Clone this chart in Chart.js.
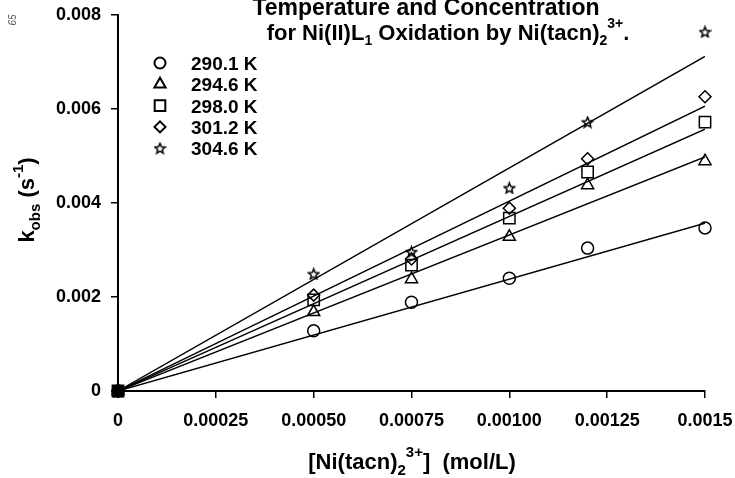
<!DOCTYPE html>
<html>
<head>
<meta charset="utf-8">
<script src="https://cdn.jsdelivr.net/npm/chart.js@4.4.1/dist/chart.umd.min.js"></script>
<style>
  html, body { margin: 0; padding: 0; background: #fff; }
  #wrap { width: 735px; height: 478px; position: relative; }
</style>
</head>
<body>
<div id="wrap"><canvas id="myChart" width="735" height="478"></canvas></div>
<script>
// concentration of Ni(tacn)2 3+ (mol/L)
const conc = [0, 0.0005, 0.00075, 0.001, 0.0012, 0.0015];

// k_obs (s-1), one array per temperature
const temps = ['290.1 K', '294.6 K', '298.0 K', '301.2 K', '304.6 K'];
const k290 = [0, 0.00128, 0.00189, 0.00240, 0.00304, 0.00347];
const k294 = [0, 0.00168, 0.00238, 0.00328, 0.00438, 0.00489];
const k298 = [0, 0.00194, 0.00268, 0.00368, 0.00466, 0.00572];
const k301 = [0, 0.00204, 0.00281, 0.00389, 0.00494, 0.00626];
const k304 = [0, 0.00249, 0.00296, 0.00432, 0.00572, 0.00764];

// fitted lines, start and end values
const fitX = [0, 0.0015];
const fit290 = [0, 0.00357];
const fit294 = [0, 0.00498];
const fit298 = [0, 0.00557];
const fit301 = [0, 0.00606];
const fit304 = [0, 0.00712];

const xTickLabels = ['0', '0.00025', '0.00050', '0.00075', '0.00100', '0.00125', '0.0015'];
const yTickLabels = ['0', '0.002', '0.004', '0.006', '0.008'];

const FONT = '"Liberation Sans", Arial, sans-serif';

// open five-point star for the 304.6 K points
function makeStar(size) {
  const c = document.createElement('canvas');
  c.width = size; c.height = size;
  const g = c.getContext('2d');
  const cx = size / 2, cy = size / 2 + 0.5, ro = size / 2 - 1, ri = ro * 0.45;
  g.beginPath();
  for (let i = 0; i < 10; i++) {
    const r = i % 2 ? ri : ro;
    const a = -Math.PI / 2 + i * Math.PI / 5;
    g.lineTo(cx + r * Math.cos(a), cy + r * Math.sin(a));
  }
  g.closePath();
  g.lineWidth = 1.5;
  g.strokeStyle = '#000';
  g.stroke();
  return c;
}
const star = makeStar(13);

const series = [k290, k294, k298, k301, k304];
const fits = [fit290, fit294, fit298, fit301, fit304];
const styles = ['circle', 'triangle', 'rect', 'rectRot', star];
const radii = [6, 7, 8, 6, 6];

const datasets = [];
series.forEach((s, i) => {
  datasets.push({
    label: temps[i],
    data: conc.map((x, j) => ({ x: x, y: s[j] })),
    showLine: false,
    pointStyle: styles[i],
    pointRadius: radii[i],
    pointBorderColor: '#000',
    pointBackgroundColor: 'rgba(0,0,0,0)',
    pointBorderWidth: 1.5,
    clip: false
  });
});
fits.forEach((f) => {
  datasets.push({
    label: '',
    data: fitX.map((x, j) => ({ x: x, y: f[j] })),
    showLine: true,
    borderColor: '#000',
    borderWidth: 1.4,
    pointRadius: 0,
    fill: false
  });
});
// filled origin marker
datasets.push({
  label: '',
  data: [{ x: 0, y: 0 }],
  pointStyle: 'rect',
  pointRadius: 6,
  pointBackgroundColor: '#000',
  pointBorderColor: '#000',
  clip: false
});

function drawRich(ctx, parts, x, y, align) {
  let w = 0;
  parts.forEach(p => { ctx.font = 'bold ' + p.s + 'px ' + FONT; w += ctx.measureText(p.t).width; });
  let cx = align === 'center' ? x - w / 2 : x;
  parts.forEach(p => {
    ctx.font = 'bold ' + p.s + 'px ' + FONT;
    ctx.fillText(p.t, cx, y + (p.dy || 0));
    cx += ctx.measureText(p.t).width;
  });
}

const textPlugin = {
  id: 'texts',
  afterDraw(chart) {
    const ctx = chart.ctx;
    ctx.save();
    ctx.fillStyle = '#000';
    ctx.textBaseline = 'alphabetic';
    ctx.textAlign = 'left';

    // title
    drawRich(ctx, [{ t: 'Temperature and Concentration', s: 23 }], 426, 15, 'center');
    drawRich(ctx, [
      { t: 'for Ni(II)L', s: 22 }, { t: '1', s: 14, dy: 5 },
      { t: ' Oxidation by Ni(tacn)', s: 22 }, { t: '2', s: 14, dy: 5 },
      { t: '3+', s: 14, dy: -12 }, { t: '.', s: 22 }
    ], 448, 40, 'center');

    // legend
    temps.forEach((t, i) => {
      const y = 63 + i * 21.3;
      ctx.fillStyle = 'rgba(0,0,0,0)';
      ctx.strokeStyle = '#000';
      ctx.lineWidth = 2;
      Chart.helpers.drawPoint(ctx, {
        pointStyle: styles[i], radius: radii[i] - 0.5, borderWidth: 2, rotation: 0
      }, 160, y);
      ctx.fillStyle = '#000';
      ctx.font = 'bold 19px ' + FONT;
      ctx.fillText(t, 191, y + 7);
    });

    // x axis title
    drawRich(ctx, [
      { t: '[Ni(tacn)', s: 22 }, { t: '2', s: 15, dy: 6 }, { t: '3+', s: 15, dy: -12 },
      { t: ']  (mol/L)', s: 22 }
    ], 412, 469, 'center');

    // y axis title
    ctx.save();
    ctx.translate(34, 200);
    ctx.rotate(-Math.PI / 2);
    drawRich(ctx, [
      { t: 'k', s: 22 }, { t: 'obs', s: 15, dy: 6 }, { t: ' (s', s: 22 }, { t: '-1', s: 15, dy: -11 }, { t: ')', s: 22 }
    ], 0, 0, 'center');
    ctx.restore();

    // page mark from the scan
    ctx.save();
    ctx.translate(16, 20);
    ctx.rotate(-Math.PI / 2);
    ctx.fillStyle = '#555';
    ctx.font = 'italic 10px ' + FONT;
    ctx.textAlign = 'center';
    ctx.fillText('65', 0, 0);
    ctx.restore();

    ctx.restore();
  }
};

const ctx = document.getElementById('myChart').getContext('2d');
const chart = new Chart(ctx, {
  type: 'scatter',
  data: { datasets: datasets },
  options: {
    responsive: false,
    animation: false,
    layout: { padding: { left: 0, right: 30, top: 15, bottom: 0 } },
    plugins: { legend: { display: false }, tooltip: { enabled: false } },
    scales: {
      x: {
        type: 'linear',
        min: 0, max: 0.0015,
        afterFit(scale) { scale.height = 87; scale.paddingLeft = 0; scale.paddingRight = 0; },
        border: { display: true, color: '#000', width: 2 },
        grid: { drawOnChartArea: false, drawTicks: true, tickLength: 7, color: '#000', lineWidth: 1.5 },
        ticks: {
          stepSize: 0.00025,
          padding: 12,
          color: '#000',
          maxRotation: 0,
          font: { family: FONT, size: 18, weight: 'bold' },
          callback: (v, i) => xTickLabels[i]
        }
      },
      y: {
        type: 'linear',
        min: 0, max: 0.008,
        afterFit(scale) { scale.width = 118; scale.paddingTop = 0; scale.paddingBottom = 0; },
        border: { display: true, color: '#000', width: 2 },
        grid: { drawOnChartArea: false, drawTicks: true, tickLength: 7, color: '#000', lineWidth: 1.5 },
        ticks: {
          stepSize: 0.002,
          padding: 10,
          color: '#000',
          font: { family: FONT, size: 18, weight: 'bold' },
          callback: (v, i) => yTickLabels[i]
        }
      }
    }
  },
  plugins: [textPlugin]
});
</script>
</body>
</html>
